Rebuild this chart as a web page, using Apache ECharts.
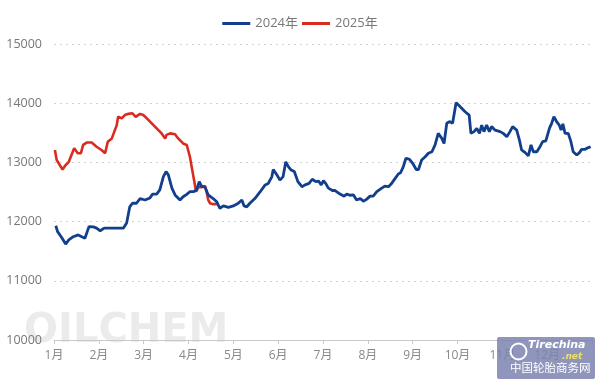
<!DOCTYPE html>
<html>
<head>
<meta charset="utf-8">
<script src="https://cdn.jsdelivr.net/npm/echarts@6/dist/echarts.min.js"></script>
<style>html,body{margin:0;padding:0;background:#fff}#c{width:600px;height:384px}</style>
</head>
<body>
<div id="c"></div>
<script>
var monthLabels = ['1月','2月','3月','4月','5月','6月','7月','8月','9月','10月','11月','12月'];
var seriesNames = ['2024年','2025年'];
var yTicks = [10000, 11000, 12000, 13000, 14000, 15000];

// position in months since 1 Jan
var pos2024 = [0.04,0.08,0.16,0.26,0.33,0.43,0.54,0.62,0.69,0.78,0.88,0.95,1.03,1.12,1.29,1.55,1.62,1.69,1.75,1.84,1.92,2.03,2.14,2.20,2.29,2.36,2.44,2.50,2.55,2.63,2.70,2.81,2.88,2.96,3.03,3.11,3.18,3.24,3.29,3.37,3.44,3.55,3.63,3.70,3.78,3.89,4.00,4.11,4.19,4.24,4.30,4.37,4.48,4.60,4.71,4.78,4.86,4.89,4.97,5.04,5.11,5.17,5.23,5.29,5.36,5.44,5.53,5.60,5.69,5.76,5.84,5.90,5.96,6.01,6.06,6.12,6.21,6.27,6.38,6.47,6.53,6.60,6.68,6.75,6.83,6.90,6.97,7.05,7.12,7.20,7.31,7.38,7.46,7.53,7.61,7.68,7.73,7.79,7.85,7.93,8.00,8.08,8.13,8.20,8.28,8.35,8.43,8.50,8.57,8.65,8.70,8.76,8.83,8.89,8.97,9.06,9.17,9.26,9.30,9.37,9.43,9.49,9.54,9.59,9.65,9.71,9.76,9.84,9.95,10.02,10.10,10.17,10.23,10.32,10.38,10.43,10.51,10.58,10.64,10.69,10.77,10.84,10.90,10.97,11.05,11.10,11.15,11.21,11.27,11.31,11.35,11.40,11.47,11.53,11.58,11.66,11.72,11.77,11.84,11.92,11.97];
var price2024 = [11930,11830,11745,11620,11690,11745,11775,11745,11720,11915,11910,11890,11845,11890,11890,11890,11975,12250,12310,12310,12390,12365,12400,12465,12465,12535,12760,12845,12790,12565,12450,12365,12420,12460,12505,12505,12535,12675,12600,12580,12450,12390,12335,12225,12265,12240,12265,12310,12365,12265,12250,12310,12390,12505,12620,12645,12760,12880,12790,12700,12760,13010,12925,12870,12845,12675,12590,12620,12645,12715,12675,12685,12620,12690,12645,12565,12525,12525,12465,12430,12465,12445,12450,12365,12390,12345,12375,12430,12430,12505,12565,12600,12590,12645,12730,12805,12825,12925,13070,13050,12985,12880,12880,13040,13095,13155,13180,13295,13490,13405,13320,13660,13690,13660,14010,13940,13855,13800,13490,13520,13575,13490,13630,13520,13630,13520,13605,13545,13520,13490,13435,13520,13605,13545,13380,13210,13165,13110,13295,13180,13180,13265,13350,13365,13575,13660,13770,13690,13630,13545,13650,13490,13490,13350,13180,13125,13165,13220,13220,13250,13265];

var pos2025 = [0.02,0.06,0.13,0.19,0.26,0.33,0.39,0.45,0.53,0.60,0.65,0.73,0.84,0.95,1.06,1.14,1.20,1.29,1.32,1.36,1.40,1.43,1.51,1.58,1.66,1.75,1.82,1.92,1.99,2.07,2.18,2.29,2.40,2.48,2.51,2.59,2.70,2.77,2.88,2.96,3.03,3.11,3.17,3.22,3.29,3.37,3.41,3.44,3.48,3.55,3.63];
var price2025 = [13210,13040,12955,12880,12955,13010,13125,13240,13155,13155,13295,13335,13335,13265,13210,13155,13350,13405,13380,13550,13630,13770,13745,13800,13820,13830,13770,13820,13800,13745,13660,13575,13490,13405,13465,13490,13475,13405,13320,13295,13100,12760,12505,12580,12580,12600,12480,12365,12310,12295,12295];

function zip(a, b) { return a.map(function (x, i) { return [x, b[i]]; }); }

var chart = echarts.init(document.getElementById('c'), null, {renderer: 'canvas'});
chart.setOption({
  animation: false,
  backgroundColor: '#ffffff',
  legend: {
    top: 12, left: 'center',
    icon: 'rect', itemWidth: 28, itemHeight: 3, itemGap: 4,
    textStyle: {color: '#777', fontSize: 13, fontFamily: 'Open Sans, Noto Sans CJK SC'},
    data: seriesNames
  },
  grid: {left: 54, right: 8, top: 44, bottom: 44},
  xAxis: {
    type: 'value', min: 0, max: 12, interval: 1,
    axisLine: {lineStyle: {color: '#c8c8c8'}},
    axisTick: {show: true, length: 4, lineStyle: {color: '#c8c8c8'}},
    splitLine: {show: false},
    axisLabel: {
      color: '#888', fontSize: 12, margin: 10, fontFamily: 'Open Sans, Noto Sans CJK SC',
      formatter: function (v) { return monthLabels[v] || ''; }
    }
  },
  yAxis: {
    type: 'value', min: yTicks[0], max: yTicks[yTicks.length - 1], interval: 1000,
    axisLine: {show: false}, axisTick: {show: false},
    splitLine: {lineStyle: {color: '#d0d0d0', type: [2, 4]}},
    axisLabel: {color: '#777', fontSize: 12.5, margin: 12, fontFamily: 'Open Sans, sans-serif',
      formatter: function (v) { return String(v); }}
  },
  series: [
    {name: seriesNames[0], type: 'line', data: zip(pos2024, price2024), showSymbol: false, symbol: 'none',
     lineStyle: {color: '#123f8c', width: 2.8}, itemStyle: {color: '#123f8c'}, z: 3},
    {name: seriesNames[1], type: 'line', data: zip(pos2025, price2025), showSymbol: false, symbol: 'none',
     lineStyle: {color: '#d92b1f', width: 2.6}, itemStyle: {color: '#d92b1f'}, z: 2}
  ],
  graphic: [
    {type: 'text', left: 24, top: 312, z: 0, silent: true,
     style: {text: 'OILCHEM', font: 'bold 40px "DejaVu Sans", sans-serif', fill: 'rgba(190,190,190,0.3)'}},
    {type: 'rect', left: 497, top: 337, z: 10, silent: true,
     shape: {width: 98, height: 42, r: 2}, style: {fill: 'rgba(125,130,175,0.85)'}},
    {type: 'circle', left: 508, top: 341, z: 11, silent: true,
     shape: {r: 8}, style: {fill: 'none', stroke: '#ffffff', lineWidth: 2}},
    {type: 'text', left: 528, top: 340, z: 11, silent: true,
     style: {text: 'Tirechina', font: 'italic bold 11px "DejaVu Sans", sans-serif', fill: '#ffffff'}},
    {type: 'text', left: 562, top: 352, z: 11, silent: true,
     style: {text: '.net', font: 'italic bold 9px "DejaVu Sans", sans-serif', fill: '#f0e060'}},
    {type: 'text', left: 510, top: 362, z: 11, silent: true,
     style: {text: '中国轮胎商务网', font: '11.5px "Noto Sans CJK SC", sans-serif', fill: '#ffffff'}}
  ]
});
</script>
</body>
</html>
